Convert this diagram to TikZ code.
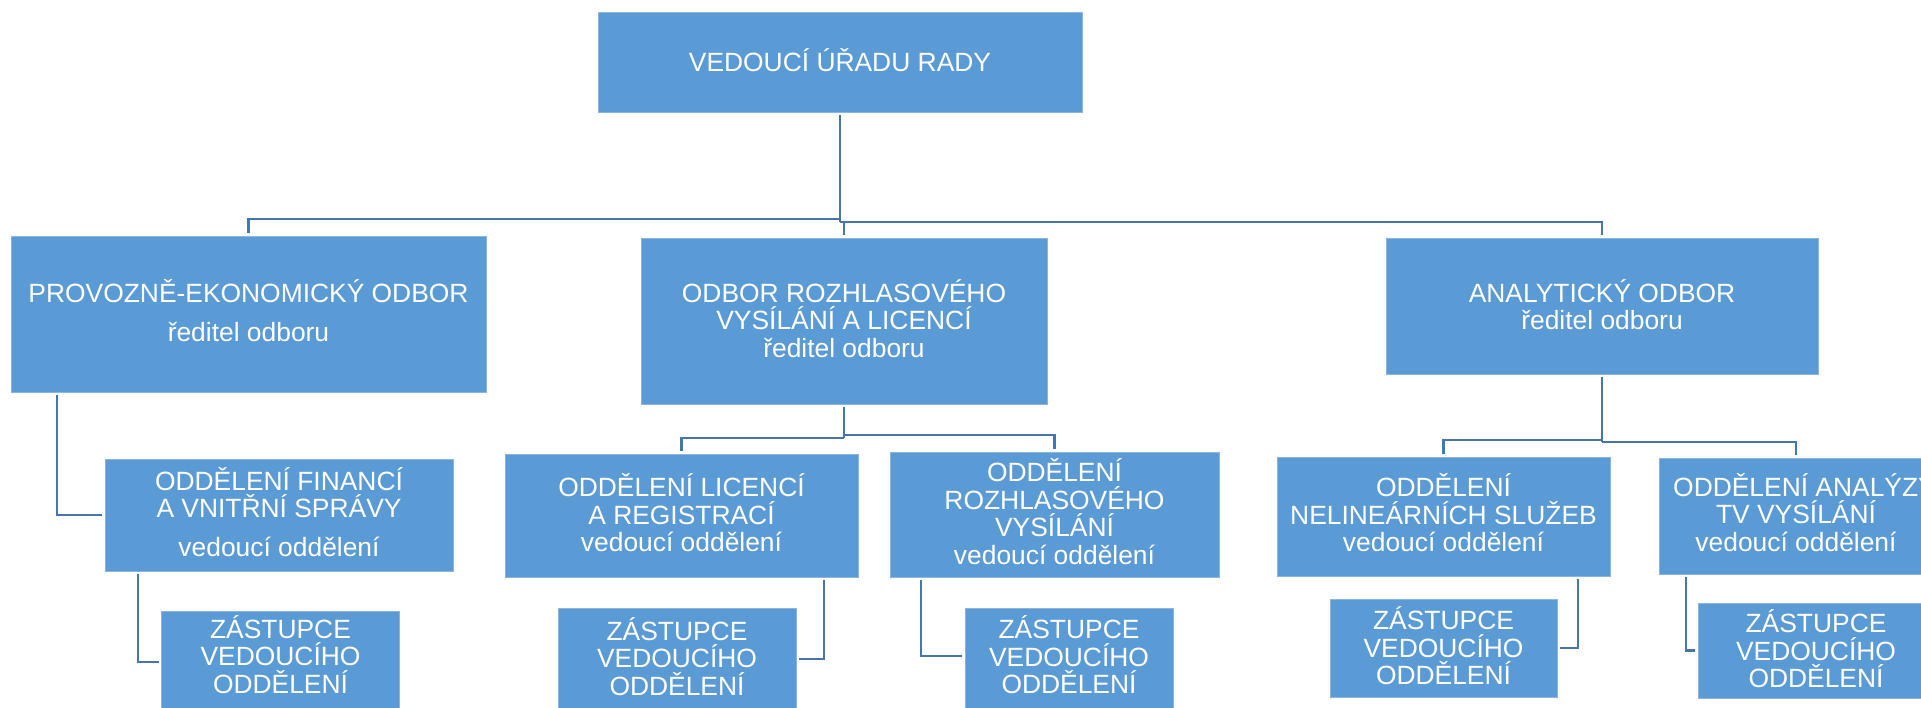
\documentclass[tikz,border=0pt]{standalone}
\usepackage{fontspec}
\setmainfont{Liberation Sans}
\definecolor{boxfill}{RGB}{91,155,213}
\definecolor{boxline}{RGB}{140,182,224}
\definecolor{connline}{RGB}{68,118,172}
% lines of a box text: centred rows, baseline of the whole = baseline of the first row
\newcommand{\orglines}[1]{\vtop{\halign{\hfil##\hfil\cr#1\crcr}}}
\begin{document}
\begin{tikzpicture}[x=1pt,y=-1pt,
  orgbox/.style={rectangle, fill=boxfill, draw=boxline, line width=0.8pt,
    inner sep=0pt, outer sep=0pt},
  orgtext/.style={anchor=base, inner sep=0pt, outer sep=0pt, text=white,
    font=\fontsize{26.4}{27.5}\selectfont},
  conn/.style={draw=connline, line width=2.4pt, shorten <=3pt, shorten >=3pt},
  connmid/.style={draw=connline, line width=2.4pt, shorten >=3pt}]
\useasboundingbox (0,0) rectangle (1921,707);
\clip (0,0) rectangle (1921,707);
\fill[white] (0,0) rectangle (1921,707);

% ---------- boxes ----------
% level 0
\node[orgbox, minimum width=484pt, minimum height=100pt] (top) at (840,62) {};
% level 1
\node[orgbox, minimum width=475pt, minimum height=156pt] (pe)  at (248.5,314) {};
\node[orgbox, minimum width=406pt, minimum height=166pt] (odb) at (844,321) {};
\node[orgbox, minimum width=432pt, minimum height=136pt] (ana) at (1602,306) {};
% level 2
\node[orgbox, minimum width=348pt, minimum height=112pt] (fin) at (279,515) {};
\node[orgbox, minimum width=353pt, minimum height=123pt] (lic) at (681.5,515.5) {};
\node[orgbox, minimum width=329pt, minimum height=125pt] (roz) at (1054.5,514.5) {};
\node[orgbox, minimum width=333pt, minimum height=119pt] (nel) at (1443.5,516.5) {};
\node[orgbox, minimum width=274pt, minimum height=116pt] (anz) at (1796,516) {};
% level 3 (deputies)
\node[orgbox, minimum width=238pt, minimum height=99pt]  (z1) at (280.5,660.5) {};
\node[orgbox, minimum width=238pt, minimum height=102pt] (z2) at (677,659) {};
\node[orgbox, minimum width=208pt, minimum height=102pt] (z3) at (1069,659) {};
\node[orgbox, minimum width=227pt, minimum height=98pt]  (z4) at (1443.5,648) {};
\node[orgbox, minimum width=236pt, minimum height=95pt]  (z5) at (1816,650.5) {};

% ---------- texts (placed at the baseline of their first line) ----------
\node[orgtext] (t-top) at (840,71.5) {\orglines{VEDOUCÍ ÚŘADU RADY}};
\node[orgtext] (t-pe)  at (248.5,302) {\orglines{PROVOZNĚ-EKONOMICKÝ ODBOR\cr\noalign{\vskip 11.5pt}ředitel odboru}};
\node[orgtext] (t-odb) at (844,302) {\orglines{ODBOR ROZHLASOVÉHO\cr VYSÍLÁNÍ A LICENCÍ\cr ředitel odboru}};
\node[orgtext] (t-ana) at (1602,302) {\orglines{ANALYTICKÝ ODBOR\cr ředitel odboru}};

\node[orgtext] (t-fin) at (279,490) {\orglines{ODDĚLENÍ FINANCÍ\cr A VNITŘNÍ SPRÁVY\cr\noalign{\vskip 11.5pt}vedoucí oddělení}};
\node[orgtext] (t-lic) at (681.5,496.5) {\orglines{ODDĚLENÍ LICENCÍ\cr A REGISTRACÍ\cr vedoucí oddělení}};
\node[orgtext] (t-roz) at (1054.5,481.5) {\orglines{ODDĚLENÍ\cr ROZHLASOVÉHO\cr VYSÍLÁNÍ\cr vedoucí oddělení}};
\node[orgtext] (t-nel) at (1443.5,496.5) {\orglines{ODDĚLENÍ\cr NELINEÁRNÍCH SLUŽEB\cr vedoucí oddělení}};
\node[orgtext] (t-anz) at (1796,496) {\orglines{\hspace*{17pt}ODDĚLENÍ ANALÝZY\cr TV VYSÍLÁNÍ\cr vedoucí oddělení}};

\node[orgtext] (t-z1) at (280.5,638) {\orglines{ZÁSTUPCE\cr VEDOUCÍHO\cr ODDĚLENÍ}};
\node[orgtext] (t-z2) at (677,640) {\orglines{ZÁSTUPCE\cr VEDOUCÍHO\cr ODDĚLENÍ}};
\node[orgtext] (t-z3) at (1069,638.5) {\orglines{ZÁSTUPCE\cr VEDOUCÍHO\cr ODDĚLENÍ}};
\node[orgtext] (t-z4) at (1443.5,629.5) {\orglines{ZÁSTUPCE\cr VEDOUCÍHO\cr ODDĚLENÍ}};
\node[orgtext] (t-z5) at (1816,632.5) {\orglines{ZÁSTUPCE\cr VEDOUCÍHO\cr ODDĚLENÍ}};

% ---------- junctions ----------
\coordinate (jl) at (840,219);
\coordinate (jr) at (840,222);
\coordinate (jol) at (844,438);
\coordinate (jor) at (844,435);
\coordinate (jal) at (1602,440);
\coordinate (jar) at (1602,442);

% top -> departments
\draw[conn, shorten >=0pt] (top.south) -- (jr);
\draw[connmid] (jl) -| (pe.north);
\draw[connmid] (jr) -| (odb.north);
\draw[connmid] (jr) -| (ana.north);

% odbor rozhlasoveho vysilani -> oddeleni
\draw[conn, shorten >=0pt] (odb.south) -- (jol);
\draw[connmid] (jol) -| (lic.north);
\draw[connmid] (jor) -| (roz.north);

% analyticky odbor -> oddeleni
\draw[conn, shorten >=0pt] (ana.south) -- (jar);
\draw[connmid] (jal) -| (nel.north);
\draw[connmid] (jar) -| (anz.north);

% side connectors to the lower boxes
\draw[conn, shorten <=0pt] ([xshift=46pt,yshift=-3pt]pe.south west) |- (fin.west);
\draw[conn, shorten <=0pt] ([xshift=33pt,yshift=-3pt]fin.south west) |- ([yshift=-1.5pt]z1.west);
\draw[conn, shorten <=0pt] ([xshift=-34pt,yshift=-3pt]lic.south east) |- (z2.east);
\draw[conn, shorten <=0pt] ([xshift=31pt,yshift=-3pt]roz.south west) |- ([yshift=3pt]z3.west);
\draw[conn, shorten <=0pt] ([xshift=-32pt,yshift=-3pt]nel.south east) |- (z4.east);
\draw[conn, shorten <=0pt] ([xshift=27pt,yshift=-3pt]anz.south west) |- (z5.west);
\end{tikzpicture}
\end{document}
